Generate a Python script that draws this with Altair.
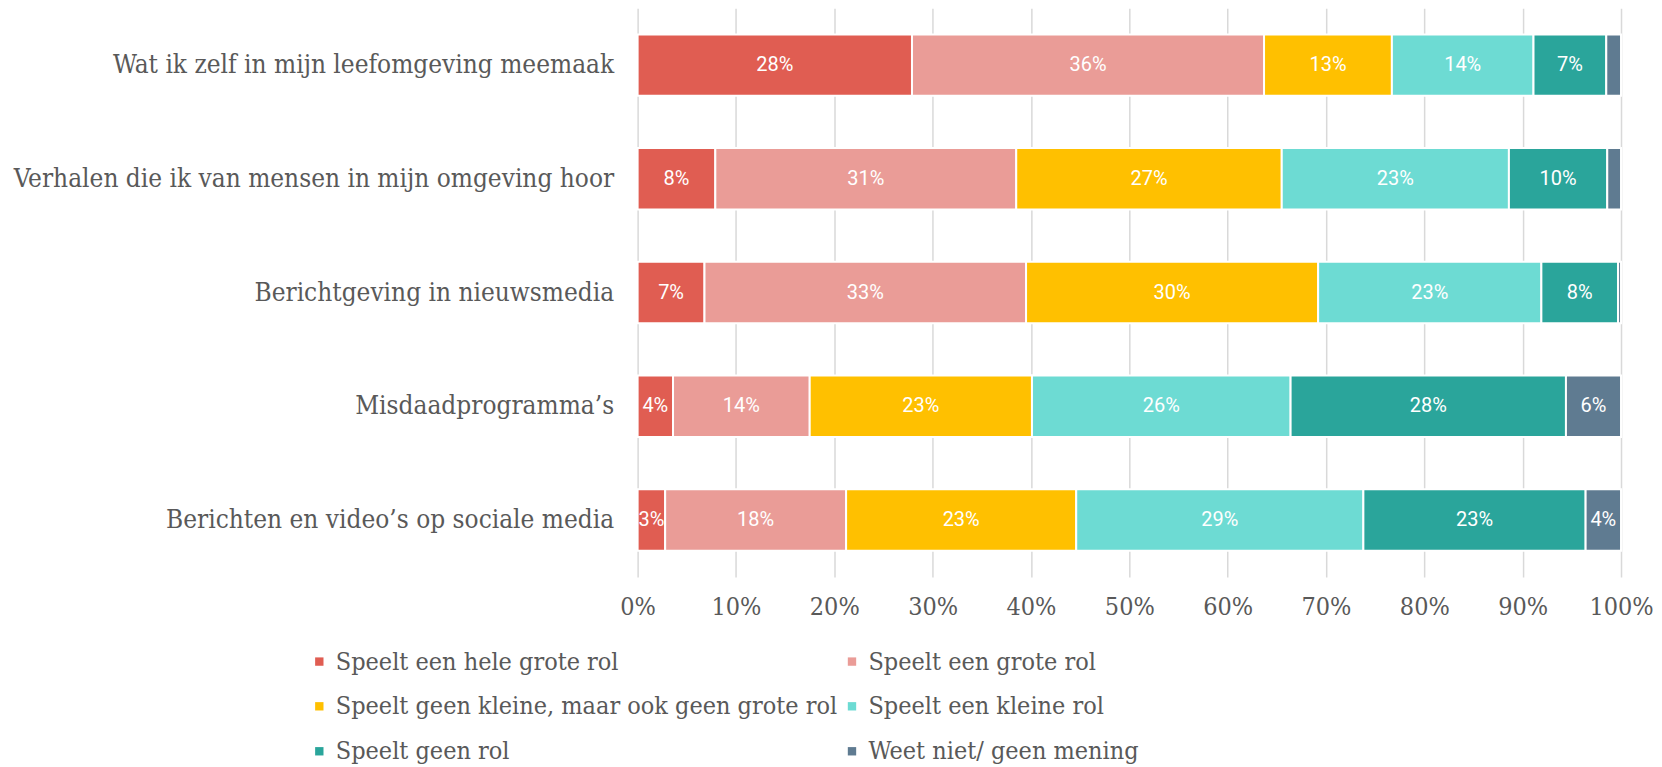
import altair as alt
import pandas as pd

categories = [
    "Wat ik zelf in mijn leefomgeving meemaak",
    "Verhalen die ik van mensen in mijn omgeving hoor",
    "Berichtgeving in nieuwsmedia",
    "Misdaadprogramma’s",
    "Berichten en video’s op sociale media",
]
series = [
    "Speelt een hele grote rol",
    "Speelt een grote rol",
    "Speelt geen kleine, maar ook geen grote rol",
    "Speelt een kleine rol",
    "Speelt geen rol",
    "Weet niet/ geen mening",
]
colors = ["#E05D52", "#EA9C97", "#FFC000", "#6DDBD3", "#2AA59B", "#5F7B91"]

hele_grote = [27.9, 7.9, 6.8, 3.6, 2.8]
grote = [35.8, 30.6, 32.7, 13.9, 18.4]
neutraal = [13.0, 27.0, 29.7, 22.6, 23.4]
kleine = [14.4, 23.1, 22.7, 26.3, 29.2]
geen = [7.4, 10.0, 7.8, 28.0, 22.6]
weet_niet = [1.5, 1.4, 0.3, 5.6, 3.6]

values = [hele_grote, grote, neutraal, kleine, geen, weet_niet]

rows = []
for ci, cat in enumerate(categories):
    start = 0.0
    for si, s in enumerate(series):
        v = values[si][ci]
        rows.append({
            "cat": cat, "series": s, "order": si,
            "start": start / 100, "end": (start + v) / 100,
            "mid": (start + v / 2) / 100,
            "label": f"{round(v)}%" if v >= 2 else "",
        })
        start += v
df = pd.DataFrame(rows)

SERIF = "DejaVu Serif Condensed, DejaVu Serif"
GREY = "#595959"

y_enc = alt.Y("cat:N", sort=categories,
              scale=alt.Scale(paddingInner=0.46, paddingOuter=0.23),
              axis=alt.Axis(title=None, labelFont=SERIF, labelFontSize=26,
                            labelColor=GREY, labelPadding=24, labelLimit=700,
                            ticks=False, domain=False, minExtent=630, maxExtent=630))

bars = alt.Chart(df).mark_bar(stroke="white", strokeWidth=2).encode(
    x=alt.X("start:Q", scale=alt.Scale(domain=[0, 1], nice=False),
            axis=alt.Axis(title=None, format=".0%", values=[i / 10 for i in range(11)],
                          labelFont=SERIF, labelFontSize=25, labelColor=GREY,
                          labelPadding=18, labelFlush=False, ticks=False, domain=False,
                          grid=True, gridColor="#D9D9D9", gridWidth=1.5)),
    x2="end:Q",
    y=y_enc,
    color=alt.Color("series:N", sort=series,
                    scale=alt.Scale(domain=series, range=colors),
                    legend=alt.Legend(title=None, orient="none", legendX=-331, legendY=641,
                                      columns=2, direction="horizontal",
                                      symbolType="square", symbolSize=70,
                                      symbolStrokeWidth=0,
                                      labelFont=SERIF, labelFontSize=25,
                                      labelColor=GREY, labelOffset=4,
                                      rowPadding=19, columnPadding=2,
                                      labelLimit=700)),
    order="order:Q",
)

text = alt.Chart(df).mark_text(font="Roboto", fontSize=20, color="white").encode(
    x="mid:Q",
    y=alt.Y("cat:N", sort=categories),
    text="label:N",
)

chart = (bars + text).properties(
    width=984, height=569,
    padding={"left": 0, "top": 0, "right": 0, "bottom": 0},
).configure_view(stroke=None)

chart.save("out.html", embed_options={"renderer": "svg", "actions": False})
